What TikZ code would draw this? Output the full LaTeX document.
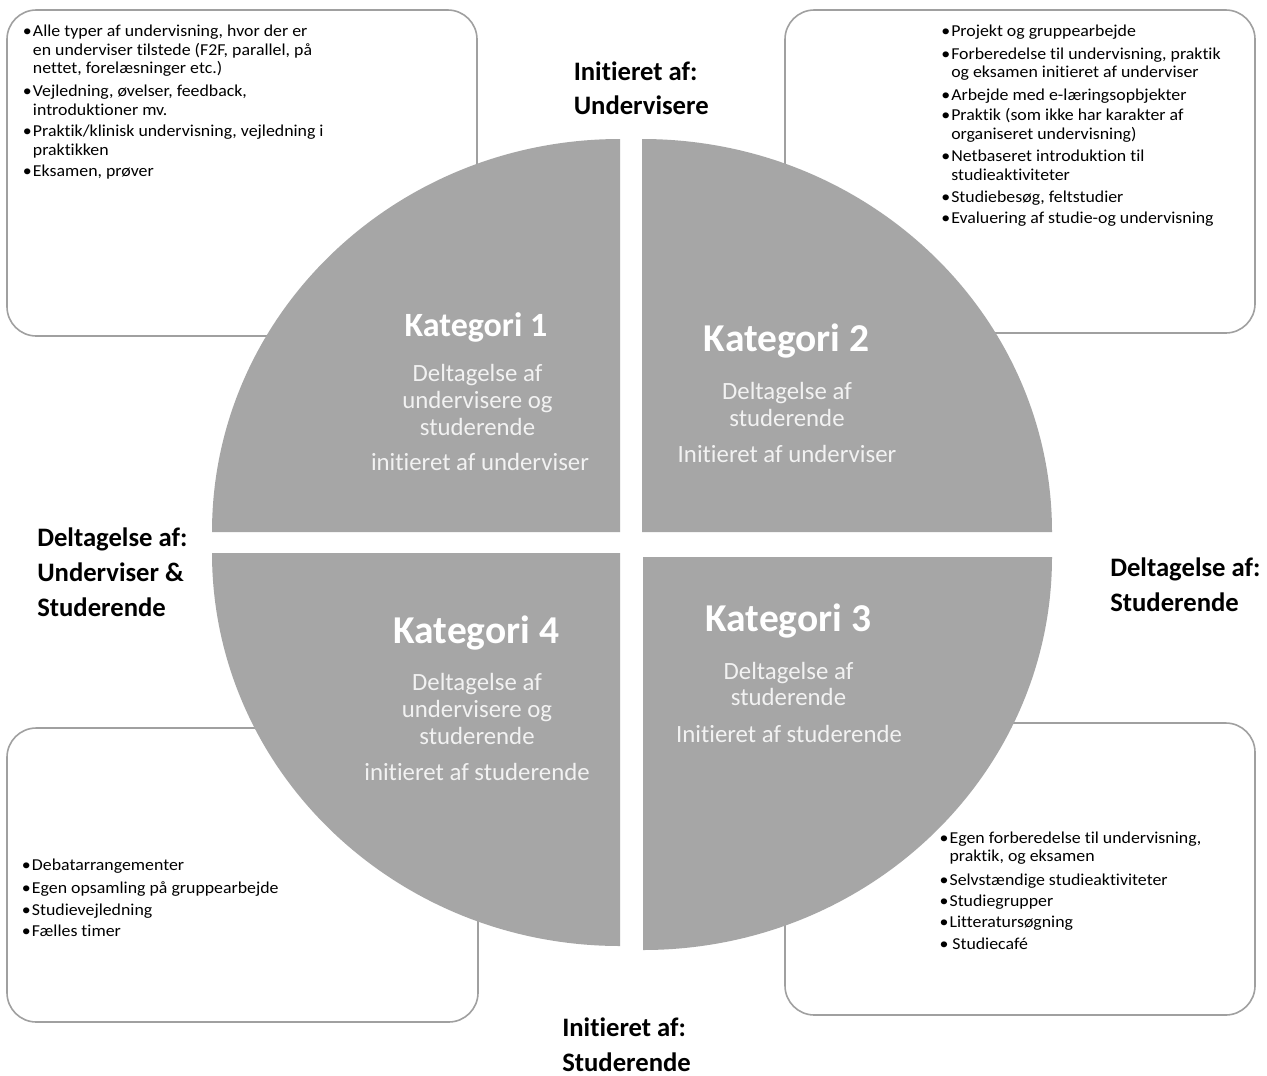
\documentclass[tikz,border=0pt]{standalone}
\usepackage{fontspec}
\setmainfont[Ligatures=NoCommon]{Carlito}
\newfontfamily\boxfont[FakeStretch=1.07,Ligatures=NoCommon]{Carlito}
\definecolor{quadgray}{RGB}{166,166,166}
\definecolor{boxline}{RGB}{160,160,160}
\definecolor{subwhite}{RGB}{242,242,242}
\newcommand{\bul}{\makebox[7.5pt][l]{\textbullet}}
\newcommand{\ind}{\hspace*{7.5pt}}
\begin{document}
\begin{tikzpicture}[x=0.75pt,y=0.75pt,
  box/.style={draw=boxline, line width=1.2pt, fill=white, rounded corners=22pt},
  quad/.style={fill=quadgray},
  item/.style={anchor=base west, inner sep=0pt, align=left, font=\boxfont\fontsize{12.5}{13.9}\selectfont},
  axis/.style={anchor=base west, inner sep=0pt, align=left, font=\fontsize{20}{26.5}\selectfont\bfseries},
  cattitle/.style={anchor=base, inner sep=0pt, text=white, font=\fontsize{29.6}{30}\selectfont\bfseries},
  catsub/.style={anchor=base, inner sep=0pt, align=center, text=subwhite, font=\fontsize{18.6}{20.1}\selectfont},
]
\useasboundingbox[fill=white] (0,0) rectangle (1267,-1075);

% boxes
\draw[box] (7,-10) rectangle (477,-336);
\draw[box] (785,-10) rectangle (1255,-333);
\draw[box] (7,-728) rectangle (478,-1022);
\draw[box] (785,-723) rectangle (1255,-1015);

% quadrants
\fill[quad] (620,-532) -- (212,-532) arc[start angle=180, end angle=90, x radius=408, y radius=393] -- cycle;
\fill[quad] (642,-532) -- (642,-139) arc[start angle=90, end angle=0, x radius=410, y radius=393] -- cycle;
\fill[quad] (643,-557) -- (1052,-557) arc[start angle=0, end angle=-90, x radius=409, y radius=393] -- cycle;
\fill[quad] (620,-553) -- (620,-946) arc[start angle=-90, end angle=-180, x radius=408, y radius=393] -- cycle;

% category texts (multi-line nodes: base = last line)
\node[cattitle, font=\fontsize{25.5}{30}\selectfont\bfseries] (k1) at (476,-336.7) {Kategori 1};
\node[catsub] (k1a) at (477.5,-435.3) {Deltagelse af\\undervisere og\\studerende};
\node[catsub] (k1b) at (480,-470.7) {initieret af underviser};

\node[cattitle] (k2) at (786.7,-351.6) {Kategori 2};
\node[catsub] (k2a) at (787,-426.1) {Deltagelse af\\studerende};
\node[catsub] (k2b) at (787,-462.1) {Initieret af underviser};

\node[cattitle] (k3) at (788.3,-631.3) {Kategori 3};
\node[catsub] (k3a) at (788.5,-705.8) {Deltagelse af\\studerende};
\node[catsub] (k3b) at (789,-742.7) {Initieret af studerende};

\node[cattitle] (k4) at (476.4,-643) {Kategori 4};
\node[catsub] (k4a) at (477,-744.3) {Deltagelse af\\undervisere og\\studerende};
\node[catsub] (k4b) at (477,-780.9) {initieret af studerende};

% axis labels
\node[axis, font=\fontsize{20}{25}\selectfont\bfseries] (top) at (573.5,-114) {Initieret af:\\Undervisere};
\node[axis] (bottom) at (562,-1071.5) {Initieret af:\\Studerende};
\node[axis] (left) at (37,-616.7) {Deltagelse af:\\Underviser \&\\Studerende};
\node[axis, font=\fontsize{20}{26.25}\selectfont\bfseries] (right) at (1110,-611.7) {Deltagelse af:\\Studerende};

% top-left box items
\node[item] (tl1) at (22.7,-73.8) {\bul Alle typer af undervisning, hvor der er\\\ind en underviser tilstede (F2F, parallel, på\\\ind nettet, forelæsninger etc.)};
\node[item] (tl2) at (22.7,-115.2) {\bul Vejledning, øvelser, feedback,\\\ind introduktioner mv.};
\node[item] (tl3) at (22.7,-155.2) {\bul Praktik/klinisk undervisning, vejledning i\\\ind praktikken};
\node[item] (tl4) at (22.7,-176.7) {\bul Eksamen, prøver};

% top-right box items
\node[item] (tr1) at (941,-36.7) {\bul Projekt og gruppearbejde};
\node[item] (tr2) at (941,-77.8) {\bul Forberedelse til undervisning, praktik\\\ind og eksamen initieret af underviser};
\node[item] (tr3) at (941,-100) {\bul Arbejde med e-læringsopbjekter};
\node[item] (tr4) at (941,-139.2) {\bul Praktik (som ikke har karakter af\\\ind organiseret undervisning)};
\node[item] (tr5) at (941,-180.2) {\bul Netbaseret introduktion til\\\ind studieaktiviteter};
\node[item] (tr6) at (941,-202.3) {\bul Studiebesøg, feltstudier};
\node[item] (tr7) at (941,-223.3) {\bul Evaluering af studie-og undervisning};

% bottom-left box items
\node[item] (bl1) at (21.7,-870.7) {\bul Debatarrangementer};
\node[item] (bl2) at (21.7,-893.3) {\bul Egen opsamling på gruppearbejde};
\node[item] (bl3) at (21.7,-915) {\bul Studievejledning};
\node[item] (bl4) at (21.7,-936.7) {\bul Fælles timer};

% bottom-right box items
\node[item] (br1) at (939.3,-861.8) {\bul Egen forberedelse til undervisning,\\\ind praktik, og eksamen};
\node[item] (br2) at (939.3,-885) {\bul Selvstændige studieaktiviteter};
\node[item] (br3) at (939.3,-906) {\bul Studiegrupper};
\node[item] (br4) at (939.3,-927.3) {\bul Litteratursøgning};
\node[item] (br5) at (939.3,-949.3) {\bul\,Studiecafé};
\end{tikzpicture}
\end{document}
